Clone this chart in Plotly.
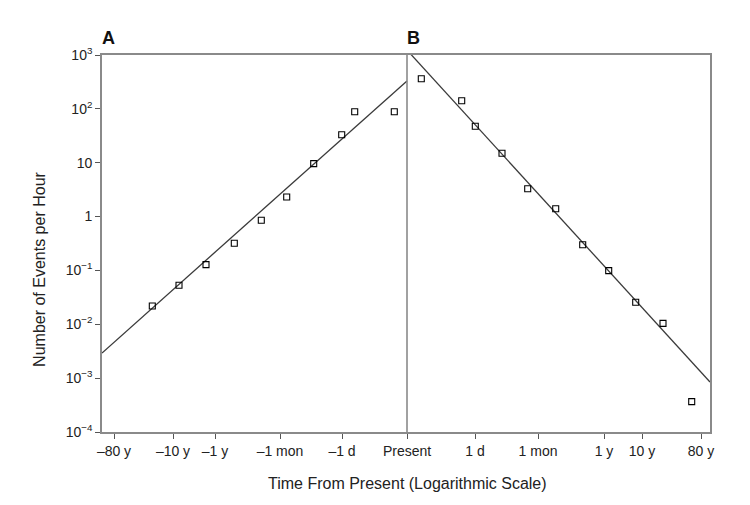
import plotly.graph_objects as go

# x positions are on a log-time position scale (0 = Present)
tick_pos = [-293, -234, -192, -127, -65, 0, 68, 131, 197, 235, 294]
tick_labels = ["–80 y", "–10 y", "–1 y", "–1 mon", "–1 d", "Present",
               "1 d", "1 mon", "1 y", "10 y", "80 y"]

y_tickvals = [1e-4, 1e-3, 1e-2, 1e-1, 1, 10, 1e2, 1e3]
y_ticktext = ["10<sup>−4</sup>", "10<sup>−3</sup>", "10<sup>−2</sup>", "10<sup>−1</sup>",
              "1", "10", "10<sup>2</sup>", "10<sup>3</sup>"]

# Panel A (before present)
a_x = [-254.7, -228, -201, -172.7, -145.7, -120.3, -93.3, -65.3, -52.3, -12.7]
a_y = [0.0219, 0.053, 0.128, 0.319, 0.853, 2.31, 9.6, 33.1, 88.6, 88.6]
a_fit_x = [-305, 0]
a_fit_y = [2.93e-3, 329]

# Panel B (after present)
b_x = [14.3, 54.7, 68.3, 95, 120.7, 148.7, 175.7, 201.7, 228.7, 256, 284.7]
b_y = [363, 141.7, 47.5, 15.0, 3.29, 1.40, 0.30, 0.099, 0.0256, 0.0104, 3.66e-4]
b_fit_x = [0, 303]
b_fit_y = [1235, 8.5e-4]

x_range = [-305, 303]

x_title = "Time From Present (Logarithmic Scale)"
y_title = "Number of Events per Hour"

fig = go.Figure()

line_style = dict(color="#3a3a3a", width=1.3)
marker_style = dict(symbol="square-open", size=6, color="black", line=dict(width=1.1, color="black"))

fig.add_trace(go.Scatter(x=a_fit_x, y=a_fit_y, mode="lines", line=line_style, hoverinfo="skip"))
fig.add_trace(go.Scatter(x=b_fit_x, y=b_fit_y, mode="lines", line=line_style, hoverinfo="skip"))
fig.add_trace(go.Scatter(x=a_x, y=a_y, mode="markers", marker=marker_style, cliponaxis=False))
fig.add_trace(go.Scatter(x=b_x, y=b_y, mode="markers", marker=marker_style, cliponaxis=False))

fig.add_shape(type="line", xref="x", yref="paper", x0=0, x1=0, y0=0, y1=1,
              line=dict(color="#8a8a8a", width=1.6))

font_family = "Liberation Sans, Arial, Helvetica, sans-serif"

fig.update_layout(
    width=742, height=497,
    margin=dict(l=94, r=40, t=47, b=73),
    paper_bgcolor="white", plot_bgcolor="white",
    showlegend=False,
    font=dict(family=font_family, size=14, color="#222222"),
    xaxis=dict(
        range=x_range, tickmode="array", tickvals=tick_pos, ticktext=tick_labels,
        showgrid=False, zeroline=False, showline=True, linecolor="#8a8a8a", linewidth=1.6,
        mirror=True, ticks="outside", ticklen=5, tickcolor="#555555", tickwidth=1.2,
        tickfont=dict(size=14, color="#222222"),
    ),
    yaxis=dict(
        type="log", range=[-4, 3], tickmode="array", tickvals=y_tickvals, ticktext=y_ticktext,
        showgrid=False, zeroline=False, showline=True, linecolor="#8a8a8a", linewidth=1.6,
        mirror=True, ticks="outside", ticklen=5, tickcolor="#555555", tickwidth=1.2,
        tickfont=dict(size=14, color="#222222"),
    ),
    annotations=[
        dict(text="<b>A</b>", xref="paper", yref="paper", x=0.0, y=1.0, xanchor="left",
             yanchor="bottom", xshift=-2, yshift=5, showarrow=False, font=dict(size=18, color="#111111")),
        dict(text="<b>B</b>", xref="x", yref="paper", x=0, y=1.0, xanchor="left",
             yanchor="bottom", xshift=-2, yshift=5, showarrow=False, font=dict(size=18, color="#111111")),
        dict(text=x_title, xref="paper", yref="paper", x=0.5025, y=0.0, xanchor="center",
             yanchor="middle", yshift=-51, showarrow=False, font=dict(size=16, color="#222222")),
        dict(text=y_title, xref="paper", yref="paper", x=0.0, y=0.43, xanchor="center",
             yanchor="middle", xshift=-62, textangle=-90, showarrow=False,
             font=dict(size=16, color="#222222")),
    ],
)

fig.write_html("out.html")
